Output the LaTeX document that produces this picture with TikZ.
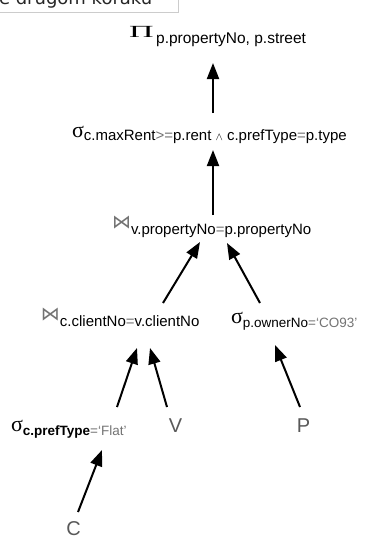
\documentclass[tikz,border=0pt]{standalone}
\usepackage{fontspec}
\setmainfont{Liberation Sans}
\newfontfamily\greekfont{Liberation Serif}
\newfontfamily\symfont{DejaVu Sans}
\usetikzlibrary{arrows.meta}
\definecolor{lightop}{gray}{0.45}
\definecolor{lettergray}{gray}{0.35}
\newcommand{\sigsym}{{\greekfont\fontsize{22}{22}\selectfont σ}}
\newcommand{\pisym}{\scalebox{2.0}[1]{\greekfont\fontsize{17}{17}\selectfont Π}}
\newcommand{\joinsym}{{\color{lightop}\symfont\fontsize{19}{19}\selectfont ⋈}}
\newcommand{\gr}[1]{{\color{lightop}#1}}
\begin{document}
\begin{tikzpicture}[x=1pt,y=-1pt,
  lbl/.style={anchor=base west,inner sep=0pt,outer sep=0pt},
  rel/.style={inner sep=0pt,outer sep=0pt,text=lettergray,font=\fontsize{20}{20}\selectfont},
  arr/.style={line width=2pt,-{Triangle[length=16pt,width=12pt]}},
  capbox/.style={draw=gray!40,line width=0.8pt}]
\useasboundingbox (0,0) rectangle (372,539);
\begin{scope}
\clip (0,0) rectangle (372,539);
\node[capbox,anchor=south east,minimum width=190pt,minimum height=30pt,inner sep=0pt] (cap) at (179,13) {};
\node[lbl,font=\symfont\fontsize{18}{18}\selectfont,text=black!85] (captext) at (-1,4) {e drugom koraku};
\end{scope}
% nodes
\node[lbl,font=\fontsize{15.5}{15.5}\selectfont] (pi) at (129,43) {\raisebox{6pt}{\pisym}\,p.propertyNo, p.street};
\node[lbl,font=\fontsize{15}{15}\selectfont] (sig1) at (72,140) {\raisebox{2.5pt}{\sigsym}c.maxRent\gr{>=}p.rent {\fontsize{11}{11}\selectfont$\wedge$} c.prefType\gr{=}p.type};
\node[lbl,font=\fontsize{15}{15}\selectfont] (join1) at (112,234) {\raisebox{6pt}{\joinsym}v.propertyNo\gr{=}p.propertyNo};
\node[lbl,font=\fontsize{15}{15}\selectfont] (join2) at (41,326) {\raisebox{6pt}{\joinsym}c.clientNo\gr{=}v.clientNo};
\node[lbl,font=\fontsize{13.5}{13.5}\selectfont] (sig2) at (231,327) {\raisebox{4pt}{\sigsym}p.ownerNo\gr{=‘CO93’}};
\node[lbl,font=\fontsize{13.5}{13.5}\selectfont] (sig3) at (11,435) {\raisebox{4pt}{\sigsym}\textbf{c.prefType}\gr{=‘Flat’}};
\node[rel] (V) at (175.5,425.5) {V};
\node[rel] (P) at (303.5,425.5) {P};
\node[rel] (C) at (73.5,528.5) {C};
% connectors
\draw[arr] ([shift={(141,-27)}]sig1.base west) -- ([shift={(84,20)}]pi.base west);
\draw[arr] ([shift={(101,-19)}]join1.base west) -- ([shift={(141,10)}]sig1.base west);
\draw[arr] ([shift={(122,-23)}]join2.base west) -- ([shift={(88,8)}]join1.base west);
\draw[arr] ([shift={(29,-24)}]sig2.base west) -- ([shift={(115,9)}]join1.base west);
\draw[arr] ([shift={(106,-28)}]sig3.base west) -- ([shift={(96,22)}]join2.base west);
\draw[arr] ([shift={(-8.5,-18.5)}]V.center) -- ([shift={(109,22)}]join2.base west);
\draw[arr] ([shift={(-3.5,-18.5)}]P.center) -- ([shift={(44,18)}]sig2.base west);
\draw[arr] ([shift={(4.5,-16.5)}]C.center) -- ([shift={(91,15)}]sig3.base west);
\end{tikzpicture}
\end{document}
